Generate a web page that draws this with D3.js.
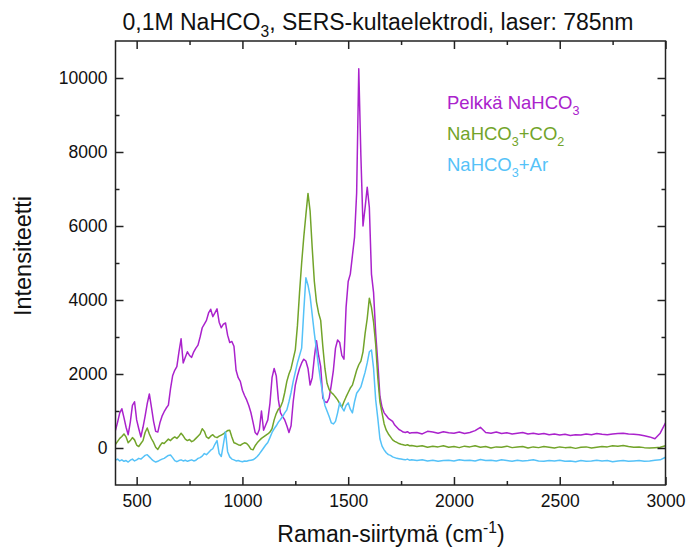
<!DOCTYPE html>
<html><head><meta charset="utf-8">
<script src="https://cdn.jsdelivr.net/npm/d3@7"></script>
<style>body{margin:0;background:#fff;} svg{display:block;font-family:"Liberation Sans",Arial,sans-serif;}</style>
</head><body><svg id="chart" width="687" height="552"></svg>
<script>
const wavenumber = [
 400,410,420,430,440,450,460,470,480,490,
 500,510,520,530,540,550,560,570,580,590,
 600,610,620,630,640,650,660,670,680,690,
 700,710,720,730,740,750,760,770,780,790,
 800,810,820,830,840,850,860,870,880,890,
 900,910,920,930,940,950,960,970,980,990,
 1000,1010,1020,1030,1040,1050,1060,1070,1080,1090,
 1100,1110,1120,1130,1140,1150,1160,1170,1180,1190,
 1200,1210,1220,1230,1240,1250,1260,1270,1280,1290,
 1300,1310,1320,1330,1340,1350,1360,1370,1380,1390,
 1400,1410,1420,1430,1440,1450,1460,1470,1480,1490,
 1500,1510,1520,1530,1540,1550,1560,1570,1580,1590,
 1600,1610,1620,1630,1640,1650,1660,1670,1680,1690,
 1700,1710,1720,1730,1740,1750,1760,1770,1780,1790,
 1800,
 1825,1850,1875,1900,1925,1950,1975,2000,2025,2050,
 2075,2100,2125,2150,2175,2200,2225,2250,2275,2300,
 2325,2350,2375,2400,2425,2450,2475,2500,2525,2550,
 2575,2600,2625,2650,2675,2700,2725,2750,2775,2800,
 2825,2850,2875,2900,2925,2950,2975,3000
];
const pelkka = [
 480,700,950,1060,820,560,360,700,1150,1250,
 760,520,300,560,860,1200,1460,1100,720,450,
 430,680,860,980,1080,1160,1600,1950,2100,2200,
 2600,2950,2300,2450,2600,2500,2450,2600,2700,2780,
 3000,3250,3350,3450,3650,3750,3550,3650,3760,3400,
 3250,3350,3380,3050,2850,2880,2750,2100,1900,1800,
 1560,1420,1300,1150,960,700,420,360,500,1000,
 480,620,760,1200,1900,2150,1950,1300,950,850,
 760,600,420,600,1250,1700,1950,2150,2300,2400,
 2350,2150,1700,1900,2450,2900,2500,2200,1350,1250,
 1230,1350,1700,2100,2700,2920,2850,2500,2400,3800,
 4500,4700,5200,5700,6900,10250,7900,6000,6500,7050,
 6500,4700,4200,3100,2300,1400,1100,950,880,800,
 760,720,620,560,500,470,430,420,440,400,
 410,
 420,380,450,430,400,440,410,400,430,390,
 420,470,560,420,400,430,390,410,380,400,
 420,380,400,370,390,360,380,350,370,340,
 360,350,380,360,390,370,360,380,390,400,
 380,370,360,330,300,250,400,680
];
const co2 = [
 100,180,260,310,380,300,140,200,280,220,
 80,40,120,200,420,540,380,250,150,20,
 -40,60,140,120,180,240,200,260,300,260,
 320,400,330,240,200,230,170,200,260,320,
 380,520,450,300,260,320,360,300,280,320,
 350,380,430,470,480,300,140,120,90,70,
 110,140,120,60,-30,-50,60,140,200,260,
 300,340,380,430,520,760,930,1050,1110,1250,
 1500,1800,2000,2150,2400,2650,3300,4200,5000,5700,
 6300,6880,6400,5400,4500,3950,3650,3450,2750,2150,
 1750,1580,1500,1450,1380,1300,1200,1100,1250,1380,
 1500,1620,1700,1900,2100,2250,2350,2600,3100,3500,
 4050,3800,3400,2800,1900,1250,950,650,480,380,
 300,220,180,150,120,100,90,70,90,60,
 70,
 40,60,20,50,30,60,20,40,10,50,
 30,60,20,40,0,30,20,50,10,30,
 40,0,30,10,40,20,0,30,10,20,
 -10,20,30,0,20,40,30,60,50,70,
 40,20,30,10,0,10,20,60
];
const ar = [
 -330,-300,-350,-320,-360,-340,-380,-330,-300,-350,
 -320,-280,-300,-250,-200,-180,-240,-300,-350,-380,
 -360,-330,-300,-280,-240,-200,-190,-260,-340,-370,
 -340,-320,-350,-330,-360,-340,-320,-350,-330,-280,
 -260,-220,-150,-180,-120,-60,-20,100,200,-150,
 -230,100,440,-100,-240,-300,-320,-350,-340,-360,
 -370,-350,-360,-340,-330,-320,-280,-230,-160,-80,
 0,80,150,280,420,520,600,700,770,850,
 950,1030,1250,1500,1800,2050,2300,2500,2700,3700,
 4600,4400,4100,3600,3100,2650,2200,1800,1450,1150,
 1000,850,680,650,720,950,1230,1100,1000,1150,
 1220,1050,950,1250,1480,1560,1650,1850,2050,2300,
 2600,2650,2150,1300,800,250,50,-50,-130,-180,
 -200,-240,-260,-280,-290,-300,-310,-320,-300,-330,
 -320,
 -340,-320,-350,-330,-360,-340,-330,-350,-320,-340,
 -330,-350,-310,-340,-330,-350,-320,-340,-360,-330,
 -350,-340,-320,-350,-360,-340,-350,-330,-360,-350,
 -370,-340,-360,-350,-330,-350,-340,-370,-350,-340,
 -360,-350,-340,-360,-350,-330,-320,-250
];
const xTicks = [500,1000,1500,2000,2500,3000];
const xMinorTicks = [750,1250,1750,2250,2750];
const yTicks = [0,2000,4000,6000,8000,10000];
const yMinorTicks = [1000,3000,5000,7000,9000];
const seriesColors = ["#aa22cc","#72a42a","#55c2f8"];

const svg = d3.select("#chart");
const m = {left:115.5, right:665.5, top:41, bottom:485};
const x = d3.scaleLinear().domain([400,3000]).range([m.left,m.right]);
const y = d3.scaleLinear().domain([-1000,11000]).range([m.bottom,m.top]);

svg.append("defs").append("clipPath").attr("id","clip")
  .append("rect").attr("x",m.left).attr("y",m.top).attr("width",m.right-m.left).attr("height",m.bottom-m.top);

const line = d3.line().x(d=>x(d[0])).y(d=>y(d[1]));
const series = [pelkka, co2, ar];
const lines = svg.append("g").attr("clip-path","url(#clip)");
series.forEach((vals,i)=>{
  const data = wavenumber.map((w,j)=>[w, vals[j]]);
  lines.append("path").datum(data).attr("d",line)
    .attr("fill","none").attr("stroke",seriesColors[i]).attr("stroke-width",1.5)
    .attr("stroke-linejoin","round");
});

const axColor = "#222";
function styleAxis(g){
  g.select(".domain").remove();
  g.selectAll(".tick line").attr("stroke",axColor).attr("stroke-width",1.5);
  g.selectAll(".tick text").attr("fill","#111").attr("font-size","17.5px").attr("font-family","Liberation Sans, Arial, sans-serif");
}
svg.append("g").attr("transform",`translate(0,${m.bottom})`)
  .call(d3.axisBottom(x).tickValues(xTicks).tickSize(-8).tickPadding(10).tickFormat(d3.format("d"))).call(styleAxis);
svg.append("g").attr("transform",`translate(0,${m.bottom})`)
  .call(d3.axisBottom(x).tickValues(xMinorTicks).tickSize(-4).tickFormat("")).call(styleAxis);
svg.append("g").attr("transform",`translate(0,${m.top})`)
  .call(d3.axisTop(x).tickValues(xTicks).tickSize(-8).tickFormat("")).call(styleAxis);
svg.append("g").attr("transform",`translate(0,${m.top})`)
  .call(d3.axisTop(x).tickValues(xMinorTicks).tickSize(-4).tickFormat("")).call(styleAxis);
svg.append("g").attr("transform",`translate(${m.left},0)`)
  .call(d3.axisLeft(y).tickValues(yTicks).tickSize(-8).tickPadding(8).tickFormat(d3.format("d"))).call(styleAxis);
svg.append("g").attr("transform",`translate(${m.left},0)`)
  .call(d3.axisLeft(y).tickValues(yMinorTicks).tickSize(-4).tickFormat("")).call(styleAxis);
svg.append("g").attr("transform",`translate(${m.right},0)`)
  .call(d3.axisRight(y).tickValues(yTicks).tickSize(-8).tickFormat("")).call(styleAxis);
svg.append("g").attr("transform",`translate(${m.right},0)`)
  .call(d3.axisRight(y).tickValues(yMinorTicks).tickSize(-4).tickFormat("")).call(styleAxis);

svg.append("rect").attr("x",m.left).attr("y",m.top).attr("width",m.right-m.left).attr("height",m.bottom-m.top)
  .attr("fill","none").attr("stroke",axColor).attr("stroke-width",1.5);

function rich(t, parts, size){
  parts.forEach(p=>{
    const ts = t.append("tspan").text(p.t);
    if(p.sub){ ts.attr("font-size",size*0.68).attr("dy",size*0.3); }
    else if(p.sup){ ts.attr("font-size",size*0.68).attr("dy",-size*0.4); }
    if(p.back) ts.attr("dy",p.back);
  });
}
// title
const TS = 23;
const title = svg.append("text").attr("x",378).attr("y",30).attr("text-anchor","middle").attr("font-size",TS).attr("fill","#111");
rich(title,[{t:"0,1M NaHCO"},{t:"3",sub:true},{t:", SERS-kultaelektrodi, laser: 785nm",back:-TS*0.3}],TS);

// axis titles
const AS = 23;
const xt = svg.append("text").attr("x",391).attr("y",542).attr("text-anchor","middle").attr("font-size",AS).attr("fill","#111");
rich(xt,[{t:"Raman-siirtymä (cm"},{t:"-1",sup:true},{t:")",back:AS*0.4}],AS);
svg.append("text").attr("transform","translate(31,256) rotate(-90)").attr("text-anchor","middle")
  .attr("font-size",23.5).attr("fill","#111").text("Intensiteetti");

// legend
const LS = 18.5;
const legendParts = [
  [{t:"Pelkkä NaHCO"},{t:"3",sub:true}],
  [{t:"NaHCO"},{t:"3",sub:true},{t:"+CO",back:-LS*0.3},{t:"2",sub:true}],
  [{t:"NaHCO"},{t:"3",sub:true},{t:"+Ar",back:-LS*0.3}]
];
const legendY = [109,140,171];
legendParts.forEach((parts,i)=>{
  const t = svg.append("text").attr("x",447).attr("y",legendY[i]).attr("font-size",LS).attr("fill",seriesColors[i]);
  rich(t,parts,LS);
});
</script></body></html>
